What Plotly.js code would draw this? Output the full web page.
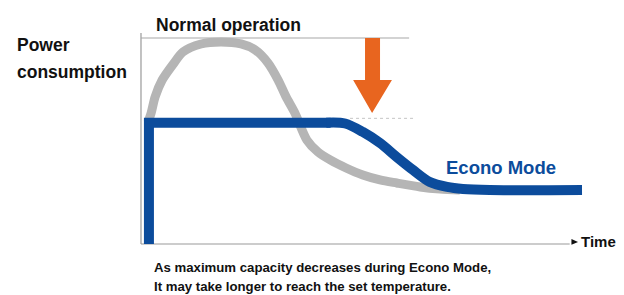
<!DOCTYPE html>
<html>
<head>
<meta charset="utf-8">
<script src="https://cdn.plot.ly/plotly-3.0.1.min.js"></script>
<style>
html,body{margin:0;padding:0;background:#fff;}
#chart{width:624px;height:295px;}
</style>
</head>
<body>
<div id="chart"></div>
<script>
// Conceptual data: time (0-100) and power consumption (0-100, 100 = normal peak)
const normalTime  = [1.6, 2.3, 3.2, 4.8, 7.5, 9.5, 13.6, 18.1, 22.7, 25.9, 28.8, 31.1, 32.9, 34.9, 37.6, 40.1, 42.9, 46.5, 50.3, 54.2, 58.0, 63.3, 67.8, 72.3];
const normalPower = [59.2, 63.6, 71.4, 79.6, 87.9, 93.2, 97.1, 98.1, 97.1, 94.2, 87.9, 79.6, 71.4, 63.6, 50.5, 44.7, 40.8, 36.9, 33.5, 31.1, 29.6, 27.7, 26.7, 26.2];

const econoStepTime  = [1.8, 1.8, 43.0];
const econoStepPower = [0, 58.9, 58.9];
const econoCurveTime  = [42.0, 46.3, 50.3, 54.2, 58.0, 61.7, 65.5, 69.4, 73.0, 79.1, 100];
const econoCurvePower = [58.9, 58.5, 54.4, 49.0, 42.2, 35.9, 30.1, 27.7, 26.7, 26.2, 26.2];

const normalLevel = 100;   // top reference line
const econoLevel = 61;     // reduced max capacity reference line

const BLUE = '#0c4c9c';
const GREY = '#b5b5b5';
const ORANGE = '#e8651f';

const traces = [
  {x: normalTime, y: normalPower, mode: 'lines', line: {color: GREY, width: 9, shape: 'spline', smoothing: 0.8}, hoverinfo: 'skip'},
  {x: econoStepTime, y: econoStepPower, mode: 'lines', line: {color: BLUE, width: 10, shape: 'linear'}, hoverinfo: 'skip'},
  {x: econoCurveTime, y: econoCurvePower, mode: 'lines', line: {color: BLUE, width: 10, shape: 'spline', smoothing: 0.9}, hoverinfo: 'skip'}
];

const F = 'Liberation Sans, Arial, sans-serif';

const layout = {
  width: 624, height: 295,
  margin: {l: 0, r: 0, t: 0, b: 0},
  paper_bgcolor: '#fff', plot_bgcolor: '#fff',
  showlegend: false,
  xaxis: {range: [-31.97, 109.52], visible: false, fixedrange: true},
  yaxis: {range: [-24.76, 118.45], visible: false, fixedrange: true},
  shapes: [
    {type: 'line', xref: 'x', yref: 'y', x0: 0, x1: 0, y0: 0, y1: 102.4, line: {color: '#9a9a9a', width: 1.2}, layer: 'below'},
    {type: 'line', xref: 'x', yref: 'y', x0: 0, x1: 97.2, y0: 0, y1: 0, line: {color: '#9a9a9a', width: 1.2}, layer: 'below'},
    {type: 'line', xref: 'x', yref: 'y', x0: 0, x1: 60.8, y0: normalLevel, y1: normalLevel, line: {color: '#a8a8a8', width: 1.2}, layer: 'below'},
    {type: 'line', xref: 'x', yref: 'y', x0: 47.4, x1: 61.7, y0: econoLevel, y1: econoLevel, line: {color: '#c4c4c4', width: 1, dash: 'dot'}, layer: 'below'},
    {type: 'path', xref: 'x', yref: 'y', path: 'M 50.8 100 L 54.2 100 L 54.2 79.6 L 56.9 79.6 L 52.4 63.6 L 48.1 79.6 L 50.8 79.6 Z', fillcolor: ORANGE, line: {width: 0}},
    {type: 'path', xref: 'x', yref: 'y', path: 'M 97.6 2.4 L 99.1 1.0 L 97.6 -0.4 Z', fillcolor: '#111', line: {width: 0}}
  ],
  annotations: [
    {text: 'Normal operation', x: 3.0, y: 106.2, xref: 'x', yref: 'y', xanchor: 'left', yanchor: 'middle', showarrow: false, font: {family: F, size: 17.5, color: '#111', weight: 'bold'}},
    {text: 'Power', x: -28.6, y: 96.6, xref: 'x', yref: 'y', xanchor: 'left', yanchor: 'middle', showarrow: false, font: {family: F, size: 17.5, color: '#111', weight: 'bold'}},
    {text: 'consumption', x: -28.6, y: 83.5, xref: 'x', yref: 'y', xanchor: 'left', yanchor: 'middle', showarrow: false, font: {family: F, size: 17.5, color: '#111', weight: 'bold'}},
    {text: 'Econo Mode', x: 68.8, y: 36.9, xref: 'x', yref: 'y', xanchor: 'left', yanchor: 'middle', showarrow: false, font: {family: F, size: 18.5, color: BLUE, weight: 'bold'}},
    {text: 'Time', x: 99.3, y: 1.0, xref: 'x', yref: 'y', xanchor: 'left', yanchor: 'middle', showarrow: false, font: {family: F, size: 15, color: '#111', weight: 'bold'}},
    {text: 'As maximum capacity decreases during Econo Mode,', x: 2.4, y: -11.2, xref: 'x', yref: 'y', xanchor: 'left', yanchor: 'middle', showarrow: false, font: {family: F, size: 13.2, color: '#111', weight: 'bold'}},
    {text: 'It may take longer to reach the set temperature.', x: 2.4, y: -20.4, xref: 'x', yref: 'y', xanchor: 'left', yanchor: 'middle', showarrow: false, font: {family: F, size: 13.2, color: '#111', weight: 'bold'}}
  ]
};

Plotly.newPlot('chart', traces, layout, {staticPlot: true, displayModeBar: false});
</script>
</body>
</html>
